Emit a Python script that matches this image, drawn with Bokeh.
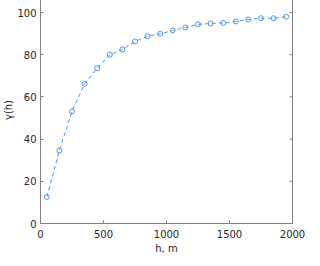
import math
from bokeh.plotting import figure
from bokeh.models import LinearAxis, Range1d, FixedTicker
from bokeh.embed import file_html
from bokeh.resources import INLINE

h = [50, 150, 250, 350, 450, 550, 650, 750, 850, 950,
     1050, 1150, 1250, 1350, 1450, 1550, 1650, 1750, 1850, 1950]
gamma = [12.6, 34.6, 53.2, 66.2, 73.6, 80.0, 82.5, 86.3, 88.8, 89.9,
         91.5, 92.9, 94.4, 94.8, 95.1, 95.8, 96.7, 97.3, 97.3, 98.0]
x_ticks = [0, 500, 1000, 1500, 2000]
y_ticks = [0, 20, 40, 60, 80, 100]
x_min, x_max = 0, 2000
y_min, y_max = 0, 107.6

col = "#4d9be0"
axc = "#262626"
gridc = "#7f7f7f"
font = "DejaVu Sans"

p = figure(frame_width=252, frame_height=227, output_backend="svg",
           toolbar_location=None,
           x_range=Range1d(x_min, x_max), y_range=Range1d(y_min, y_max),
           min_border_left=36, min_border_right=16, min_border_top=1,
           min_border_bottom=10, x_axis_location=None, y_axis_location=None,
           margin=(-5, 0, -14, 0))
p.background_fill_color = "white"
p.border_fill_color = "white"
p.outline_line_color = gridc
p.outline_line_width = 1
p.xgrid.visible = False
p.ygrid.visible = False

def style(ax, ticks):
    ax.ticker = FixedTicker(ticks=ticks)
    ax.minor_tick_line_color = None
    ax.major_tick_in = 3
    ax.major_tick_out = 0
    ax.major_tick_line_color = gridc
    ax.axis_line_color = gridc
    ax.major_label_text_font = font
    ax.major_label_text_font_size = "10px"
    ax.major_label_text_color = axc
    ax.axis_label_text_font = font
    ax.axis_label_text_font_size = "10px"
    ax.axis_label_text_font_style = "normal"
    ax.axis_label_text_color = axc

bx = LinearAxis(axis_label="h, m")
style(bx, x_ticks)
bx.major_label_standoff = 6
bx.axis_label_standoff = 2
p.add_layout(bx, "below")

ly = LinearAxis(axis_label="γ(h)")
style(ly, y_ticks)
ly.major_label_standoff = 4
ly.axis_label_standoff = 0
p.add_layout(ly, "left")

# inward ticks on the top and right edges of the box (clipped to the frame)
p.scatter(x_ticks[1:-1], [y_max] * (len(x_ticks) - 2), marker="dash",
          angle=math.pi / 2, size=6, line_color=gridc, line_width=1)
p.scatter([x_max] * (len(y_ticks) - 1), y_ticks[1:], marker="dash",
          size=6, line_color=gridc, line_width=1)

p.line(h, gamma, line_color=col, line_width=1, line_dash="4 3")
p.scatter(h, gamma, marker="circle", size=5, fill_color=None,
          line_color=col, line_width=1)

open("out.html", "w").write(file_html(p, INLINE))
